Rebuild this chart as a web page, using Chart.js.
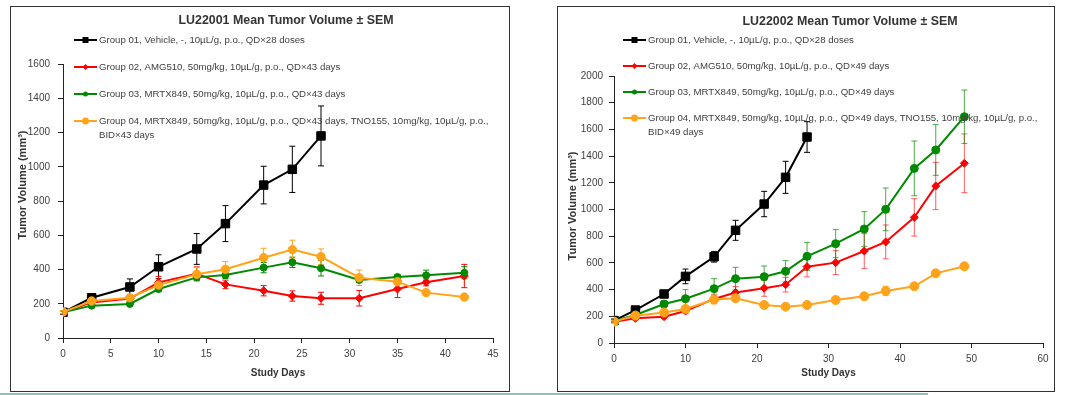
<!DOCTYPE html>
<html>
<head>
<meta charset="utf-8">
<script src="https://cdn.jsdelivr.net/npm/chart.js@4.4.1/dist/chart.umd.min.js"></script>
<style>
    body { margin: 0; background: #fff; width: 1080px; height: 395px; position: relative; overflow: hidden; }
    .box { position: absolute; border: 1px solid #333; background: #fff; }
    #boxA { left: 10px; top: 6px; width: 498px; height: 384px; }
    #boxB { left: 557px; top: 6px; width: 496px; height: 384px; }
    #strip { position: absolute; left: 0; top: 393px; width: 928px; height: 2px; background: #8dc1bd; }
</style>
</head>
<body>
<div class="box" id="boxA"><canvas id="chartA"></canvas></div>
<div class="box" id="boxB"><canvas id="chartB"></canvas></div>
<div id="strip"></div>

<script>
"use strict"

//LU22001 - dagar och värden
const daysA = [0, 3, 7, 10, 14, 17, 21, 24, 27, 31, 35, 38, 42];
const vehicleA = [150, 235, 298, 416, 520, 668, 893, 985, 1180];
const vehicleSemA = [10, 14, 47, 70, 90, 105, 110, 135, 175];
const amgA = [150, 208, 230, 325, 375, 313, 276, 245, 232, 232, 286, 325, 362];
const amgSemA = [10, 12, 15, 35, 40, 25, 30, 30, 35, 45, 50, 20, 68];
const mrtxA = [150, 189, 199, 286, 354, 368, 411, 442, 407, 339, 356, 366, 381];
const mrtxSemA = [8, 10, 10, 15, 15, 20, 30, 30, 45, 15, 15, 30, 35];
const comboA = [152, 216, 235, 309, 372, 401, 469, 516, 475, 352, 329, 265, 239];
const comboSemA = [8, 10, 12, 18, 40, 45, 55, 55, 45, 45, 15, 18, 15];

//LU22002 - dagar och värden
const daysB = [0, 3, 7, 10, 14, 17, 21, 24, 27, 31, 35, 38, 42, 45, 49];
const vehicleB = [168, 247, 367, 499, 646, 844, 1041, 1241, 1543];
const vehicleSemB = [12, 15, 25, 55, 40, 75, 95, 120, 115];
const amgB = [160, 185, 197, 240, 330, 378, 410, 437, 572, 602, 689, 757, 941, 1176, 1346];
const amgSemB = [10, 15, 15, 20, 35, 45, 60, 55, 77, 90, 130, 127, 140, 177, 220];
const mrtxB = [165, 210, 292, 332, 407, 482, 497, 537, 649, 744, 854, 1001, 1308, 1446, 1695];
const mrtxSemB = [10, 15, 25, 68, 75, 85, 80, 80, 105, 105, 130, 160, 205, 190, 200];
const comboB = [160, 205, 228, 255, 325, 335, 285, 272, 285, 322, 350, 390, 425, 522, 575];
const comboSemB = [10, 10, 15, 15, 30, 20, 15, 10, 10, 15, 25, 35, 20, 20, 15];

//axlar
const xTicksA = { min: 0, max: 45, step: 5 };
const yTicksA = { min: 0, max: 1600, step: 200 };
const xTicksB = { min: 0, max: 60, step: 10 };
const yTicksB = { min: 0, max: 2000, step: 200 };

//texter
const titleA = "LU22001 Mean Tumor Volume ± SEM";
const titleB = "LU22002 Mean Tumor Volume ± SEM";
const yTitle = "Tumor Volume (mm³)";
const xTitle = "Study Days";
const labelsA = [
    ["Group 01, Vehicle, -, 10µL/g, p.o., QD×28 doses"],
    ["Group 02, AMG510, 50mg/kg, 10µL/g, p.o., QD×43 days"],
    ["Group 03, MRTX849, 50mg/kg, 10µL/g, p.o., QD×43 days"],
    ["Group 04, MRTX849, 50mg/kg, 10µL/g, p.o., QD×43 days, TNO155, 10mg/kg, 10µL/g, p.o.,", "BID×43 days"]
];
const labelsB = [
    ["Group 01, Vehicle, -, 10µL/g, p.o., QD×28 doses"],
    ["Group 02, AMG510, 50mg/kg, 10µL/g, p.o., QD×49 days"],
    ["Group 03, MRTX849, 50mg/kg, 10µL/g, p.o., QD×49 days"],
    ["Group 04, MRTX849, 50mg/kg, 10µL/g, p.o., QD×49 days, TNO155, 10mg/kg, 10µL/g, p.o.,", "BID×49 days"]
];

const FONT = "'Liberation Sans', Arial, sans-serif";
const TEXT = "#404040";

//slår ihop dagar och värden till punkter
function toPoints(days, values) {
    return values.map((v, i) => ({ x: days[i], y: v }));
}

/**
 * Ritar felstaplarna (± SEM) med diagrammets egna skalor.
 */
const errorBars = {
    id: "errorBars",
    beforeDatasetsDraw(chart) {
        const { ctx, scales: { x, y } } = chart;
        chart.data.datasets.forEach((ds) => {
            ctx.save();
            ctx.strokeStyle = ds.barColor;
            ctx.lineWidth = 1;
            ds.data.forEach((p, i) => {
                const px = x.getPixelForValue(p.x);
                const top = y.getPixelForValue(p.y + ds.sem[i]);
                const bot = y.getPixelForValue(p.y - ds.sem[i]);
                ctx.beginPath();
                ctx.moveTo(px, top);
                ctx.lineTo(px, bot);
                ctx.moveTo(px - 3, top);
                ctx.lineTo(px + 3, top);
                ctx.moveTo(px - 3, bot);
                ctx.lineTo(px + 3, bot);
                ctx.stroke();
            });
            ctx.restore();
        });
    }
};

/**
 * Ritar titel, y-titel och legend inne i diagrammet, som i Excel.
 */
const excelLegend = {
    id: "excelLegend",
    afterDraw(chart, args, opts) {
        const ctx = chart.ctx;
        ctx.save();

        //titel
        ctx.font = "bold 12.4px " + FONT;
        ctx.fillStyle = "#333";
        ctx.textAlign = "center";
        ctx.textBaseline = "middle";
        ctx.fillText(opts.title, opts.titleX, opts.titleY);

        //y-titel
        ctx.save();
        ctx.translate(opts.yTitleX, opts.yTitleY);
        ctx.rotate(-Math.PI / 2);
        ctx.font = "bold 11px " + FONT;
        ctx.fillText(yTitle, 0, 0);
        ctx.restore();

        //legend
        ctx.font = "9.65px " + FONT;
        ctx.textAlign = "left";
        chart.data.datasets.forEach((ds, i) => {
            const y = opts.rows[i];
            const x = opts.left;
            ctx.strokeStyle = ds.borderColor;
            ctx.lineWidth = 2;
            ctx.beginPath();
            ctx.moveTo(x, y);
            ctx.lineTo(x + 23, y);
            ctx.stroke();

            const cx = x + 11.5;
            ctx.fillStyle = ds.borderColor;
            ctx.beginPath();
            if (ds.pointStyle === "rect") {
                ctx.rect(cx - 3, y - 3, 6, 6);
            } else if (ds.pointStyle === "rectRot") {
                ctx.moveTo(cx, y - 3); ctx.lineTo(cx + 3, y); ctx.lineTo(cx, y + 3); ctx.lineTo(cx - 3, y);
                ctx.closePath();
            } else {
                ctx.arc(cx, y, i === 3 ? 3.5 : 2.5, 0, Math.PI * 2);
            }
            ctx.fill();

            ctx.fillStyle = TEXT;
            ds.label.forEach((line, k) => {
                ctx.fillText(line, x + 25, y + k * 14);
            });
        });
        ctx.restore();
    }
};

function makeDataset(label, days, values, sem, color, style, radius, order, barColor) {
    return {
        label: label,
        data: toPoints(days, values),
        sem: sem,
        borderColor: color,
        backgroundColor: color,
        barColor: barColor || color,
        borderWidth: 2,
        pointStyle: style,
        pointRadius: radius,
        pointBorderWidth: 1,
        order: order
    };
}

function axisX(t, height) {
    return {
        type: "linear",
        min: t.min,
        max: t.max,
        ticks: { stepSize: t.step, color: TEXT, font: { family: FONT, size: 10 }, padding: 5, maxRotation: 0 },
        grid: { drawOnChartArea: false, tickLength: 5, color: "#222" },
        border: { color: "#222", width: 1 },
        title: { display: true, text: xTitle, color: "#333", font: { family: FONT, size: 10, weight: "bold" }, padding: { top: 0, bottom: 12 } },
        afterFit: (scale) => { scale.height = height; }
    };
}

function axisY(t, width, pad) {
    return {
        min: t.min,
        max: t.max,
        ticks: { stepSize: t.step, color: TEXT, font: { family: FONT, size: 10 }, padding: pad, format: { useGrouping: false } },
        grid: { drawOnChartArea: false, tickLength: 5, color: "#222" },
        border: { color: "#222", width: 1 },
        afterFit: (scale) => { scale.width = width; }
    };
}

//LU22001
new Chart(document.getElementById("chartA"), {
    type: "line",
    data: {
        datasets: [
            makeDataset(labelsA[0], daysA, vehicleA, vehicleSemA, "#000000", "rect", 6, 3),
            makeDataset(labelsA[1], daysA, amgA, amgSemA, "#ff0000", "rectRot", 4, 2),
            makeDataset(labelsA[2], daysA, mrtxA, mrtxSemA, "#008a00", "circle", 3.5, 1),
            makeDataset(labelsA[3], daysA, comboA, comboSemA, "#ffa31a", "circle", 4.2, 0)
        ]
    },
    options: {
        responsive: true,
        maintainAspectRatio: false,
        animation: false,
        layout: { padding: { top: 57, right: 16, left: 0, bottom: 0 } },
        scales: { x: axisX(xTicksA, 53), y: axisY(yTicksA, 52, 8) },
        plugins: {
            legend: { display: false },
            tooltip: { enabled: false },
            excelLegend: { title: titleA, titleX: 275, titleY: 14, yTitleX: 12, yTitleY: 178, left: 63, rows: [33, 60, 87, 114] }
        }
    },
    plugins: [errorBars, excelLegend]
});

//LU22002
new Chart(document.getElementById("chartB"), {
    type: "line",
    data: {
        datasets: [
            makeDataset(labelsB[0], daysB, vehicleB, vehicleSemB, "#000000", "rect", 6, 3),
            makeDataset(labelsB[1], daysB, amgB, amgSemB, "#ff0000", "rectRot", 4, 2, "rgba(255,40,40,0.75)"),
            makeDataset(labelsB[2], daysB, mrtxB, mrtxSemB, "#008a00", "circle", 4, 1, "rgba(0,138,0,0.7)"),
            makeDataset(labelsB[3], daysB, comboB, comboSemB, "#ffa31a", "circle", 4.5, 0)
        ]
    },
    options: {
        responsive: true,
        maintainAspectRatio: false,
        animation: false,
        layout: { padding: { top: 69, right: 11, left: 0, bottom: 0 } },
        scales: { x: axisX(xTicksB, 48), y: axisY(yTicksB, 56, 6) },
        plugins: {
            legend: { display: false },
            tooltip: { enabled: false },
            excelLegend: { title: titleB, titleX: 292, titleY: 15, yTitleX: 15, yTitleY: 199, left: 65, rows: [33, 59, 85, 111] }
        }
    },
    plugins: [errorBars, excelLegend]
});
</script>
</body>
</html>
